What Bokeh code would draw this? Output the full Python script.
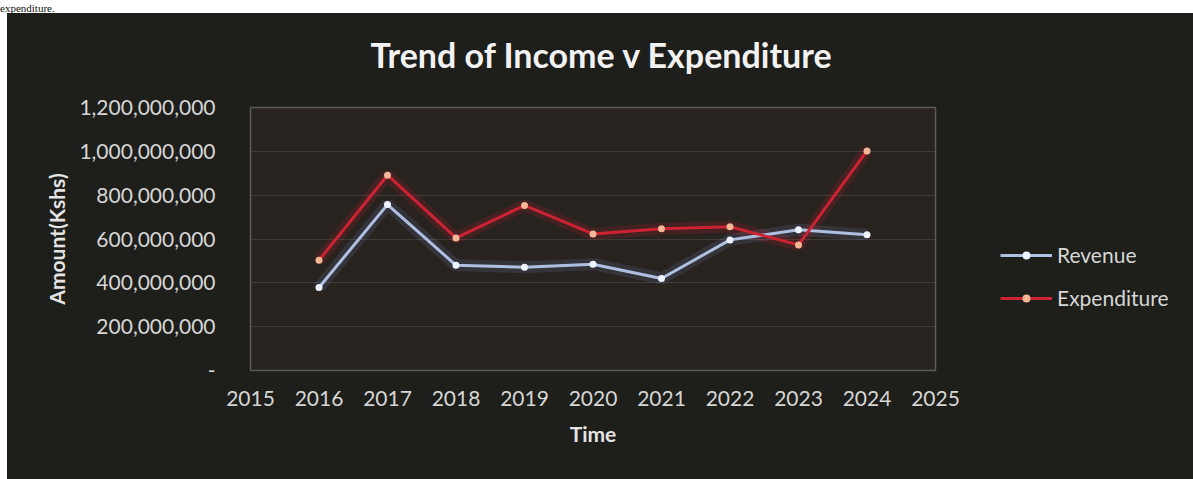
from bokeh.plotting import figure
from bokeh.models import (FixedTicker, NumeralTickFormatter, Legend, LegendItem, Title, Div, Spacer, ColumnDataSource)
from bokeh.layouts import column, row
from bokeh.embed import file_html
from bokeh.resources import INLINE

years = [2016, 2017, 2018, 2019, 2020, 2021, 2022, 2023, 2024]
revenue = [379e6, 757e6, 480e6, 471e6, 485e6, 420e6, 596e6, 642e6, 619e6]
expenditure = [503e6, 891e6, 605e6, 753e6, 623e6, 647e6, 656e6, 573e6, 1002e6]
x_ticks = list(range(2015, 2026))
y_ticks = [0, 200e6, 400e6, 600e6, 800e6, 1000e6, 1200e6]

FONT = "Lato"
TXT = "#d6d6d6"
BG = "#1e1e1b"
REV_C, REV_M = "#aebfe0", "#eef4ff"
EXP_C, EXP_M = "#cc2233", "#f5b597"

src = ColumnDataSource(dict(year=years, rev=revenue, exp=expenditure))

p = figure(width=968, height=466, x_range=(2015, 2025), y_range=(0, 1.2e9),
           output_backend="svg", toolbar_location=None,
           min_border_left=243, min_border_right=40, min_border_top=94, min_border_bottom=109,
           background_fill_color="#29231f", border_fill_color=BG,
           outline_line_color="#8a8a88", outline_line_alpha=0.55, outline_line_width=1.5)

p.title = Title(text="Trend of Income v Expenditure", align="left", text_font=FONT,
                text_font_size="34px", text_font_style="bold", text_color="#f2f2f2",
                standoff=4, offset=120)
# spacing between title and plot area
p.add_layout(Title(text=" ", text_font_size="1px", standoff=28), "above")

# glow
p.line("year", "rev", source=src, line_color="#8fb0ff", line_width=12, line_alpha=0.12)
p.line("year", "exp", source=src, line_color="#ff2030", line_width=12, line_alpha=0.12)

p.line("year", "rev", source=src, line_color=REV_C, line_width=3)
p.scatter("year", "rev", source=src, size=7, fill_color=REV_M, line_color=None)
p.line("year", "exp", source=src, line_color=EXP_C, line_width=3)
p.scatter("year", "exp", source=src, size=7, fill_color=EXP_M, line_color=None)

p.xaxis.ticker = FixedTicker(ticks=x_ticks)
p.yaxis.ticker = FixedTicker(ticks=y_ticks)
p.yaxis.formatter = NumeralTickFormatter(format="0,0")
p.yaxis.major_label_overrides = {0: "-"}

for ax in (p.xaxis, p.yaxis):
    ax.axis_line_color = None
    ax.major_tick_line_color = None
    ax.minor_tick_line_color = None
    ax.major_label_text_font = FONT
    ax.major_label_text_font_size = "21px"
    ax.major_label_text_color = TXT
    ax.axis_label_text_font = FONT
    ax.axis_label_text_font_size = "21px"
    ax.axis_label_text_font_style = "bold"
    ax.axis_label_text_color = "#e4e4e4"

p.xaxis.axis_label = "Time"
p.yaxis.axis_label = "Amount(Kshs)"
p.xaxis.major_label_standoff = 14
p.yaxis.major_label_standoff = 29
p.xaxis.axis_label_standoff = 12
p.yaxis.axis_label_standoff = 7

p.xgrid.grid_line_color = None
p.ygrid.grid_line_color = "#6a6a66"
p.ygrid.grid_line_alpha = 0.35

# legend panel (same series, drawn outside its view so only the legend shows)
lf = figure(width=218, height=466, x_range=(0, 1), y_range=(0, 1),
            output_backend="svg", toolbar_location=None,
            x_axis_location=None, y_axis_location=None,
            min_border=0, background_fill_color=BG, border_fill_color=BG,
            outline_line_color=None)
lf.xgrid.grid_line_color = None
lf.ygrid.grid_line_color = None
l1 = lf.line("year", "rev", source=src, line_color=REV_C, line_width=3)
k1 = lf.scatter("year", "rev", source=src, size=7, fill_color=REV_M, line_color=None)
l2 = lf.line("year", "exp", source=src, line_color=EXP_C, line_width=3)
k2 = lf.scatter("year", "exp", source=src, size=7, fill_color=EXP_M, line_color=None)

legend = Legend(items=[LegendItem(label="Revenue", renderers=[l1, k1]),
                       LegendItem(label="Expenditure", renderers=[l2, k2])],
                location=(25, 60), orientation="vertical",
                background_fill_alpha=0, border_line_color=None,
                label_text_font=FONT, label_text_font_size="21px", label_text_color=TXT,
                glyph_width=52, glyph_height=20, label_height=20, spacing=18,
                padding=0, margin=0, label_standoff=5)
lf.add_layout(legend, "center")

top = Div(text='<div style="font-family:\'Liberation Serif\';font-size:11px;line-height:12px;color:#111">expenditure.</div>',
          width=1193, height=13, styles={"background": "#ffffff"}, margin=0)
left_strip = Spacer(width=7, height=466, styles={"background": "#ffffff"})

body = row(left_strip, p, lf, spacing=0, styles={"background": BG})
layout = column(top, body, spacing=0, styles={"background": "#ffffff"})
open("out.html", "w").write(file_html(layout, INLINE))
